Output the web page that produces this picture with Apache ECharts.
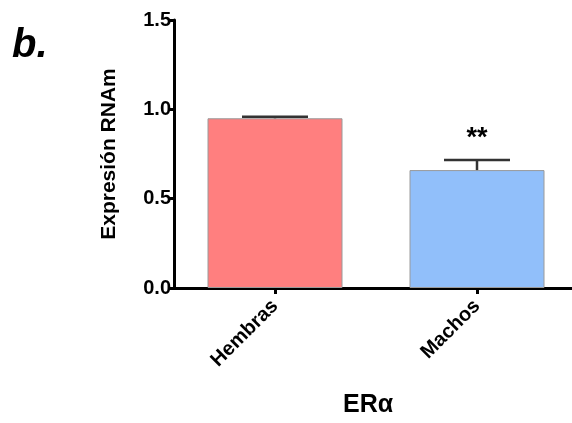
<!DOCTYPE html>
<html><head><meta charset="utf-8">
<script src="https://cdn.jsdelivr.net/npm/echarts@6/dist/echarts.min.js"></script>
<style>html,body{margin:0;padding:0;background:#fff}#c{width:572px;height:423px}</style>
</head><body><div id="c"></div>
<script>
const categories = ['Hembras', 'Machos'];
const means = [0.95, 0.66];
const errors = [0.009, 0.056];
const significance = ['', '**'];
const barColors = ['#FF7F7F', '#91BFFA'];
const yTicks = [0, 0.5, 1.0, 1.5];

const chart = echarts.init(document.getElementById('c'));
const FONT = '"Liberation Sans", Arial, sans-serif';
chart.setOption({
  animation: false,
  grid: { left: 174, width: 404, top: 20, bottom: 135, containLabel: false, outerBoundsMode: 'none' },
  xAxis: {
    type: 'category', data: categories,
    name: 'ERα', nameLocation: 'middle', nameGap: 105,
    nameTextStyle: { fontFamily: FONT, fontWeight: 'bold', fontSize: 25, color: '#000', padding: [0, 0, 0, -16] },
    axisLine: { lineStyle: { color: '#000', width: 3 } },
    axisTick: { show: true, alignWithLabel: true, length: 6, lineStyle: { color: '#000', width: 3 } },
    axisLabel: { rotate: 45, margin: 15, fontFamily: FONT, fontWeight: 'bold', fontSize: 20, color: '#000', interval: 0 }
  },
  yAxis: {
    type: 'value', min: 0, max: 1.5, interval: 0.5,
    name: 'Expresión RNAm', nameLocation: 'middle', nameGap: 54,
    nameTextStyle: { fontFamily: FONT, fontWeight: 'bold', fontSize: 21, color: '#000' },
    axisLine: { show: true, lineStyle: { color: '#000', width: 3 } },
    axisTick: { show: true, length: 6, lineStyle: { color: '#000', width: 3 } },
    axisLabel: { margin: 3, fontFamily: FONT, fontWeight: 'bold', fontSize: 20, color: '#000',
      formatter: v => yTicks.includes(v) ? v.toFixed(1) : '' },
    splitLine: { show: false }
  },
  series: [
    {
      type: 'bar', barWidth: 135,
      data: means.map((m, i) => ({ value: m, itemStyle: { color: barColors[i], borderColor: '#9a9a9a', borderWidth: 1 } }))
    },
    {
      type: 'custom', z: 5,
      data: means.map((m, i) => [i, m, m + errors[i]]),
      renderItem: function (params, api) {
        const x = api.value(0);
        const top = api.coord([x, api.value(2)]);
        const base = api.coord([x, api.value(1)]);
        const half = 33;
        const children = [
          { type: 'line', shape: { x1: top[0], y1: base[1], x2: top[0], y2: top[1] }, style: { stroke: '#333', lineWidth: 2.5 } },
          { type: 'line', shape: { x1: top[0] - half, y1: top[1], x2: top[0] + half, y2: top[1] }, style: { stroke: '#333', lineWidth: 2.5 } }
        ];
        const s = significance[params.dataIndex];
        if (s) {
          children.push({ type: 'text', style: { text: s, x: top[0], y: top[1] - 22, align: 'center', verticalAlign: 'middle',
            font: 'bold 27px ' + FONT, fill: '#000' } });
        }
        return { type: 'group', children: children };
      }
    }
  ],
  graphic: [
    { type: 'text', left: 12, top: 26, style: { text: 'b.', font: 'italic bold 40px ' + FONT, fill: '#000' } }
  ]
});
</script></body></html>
